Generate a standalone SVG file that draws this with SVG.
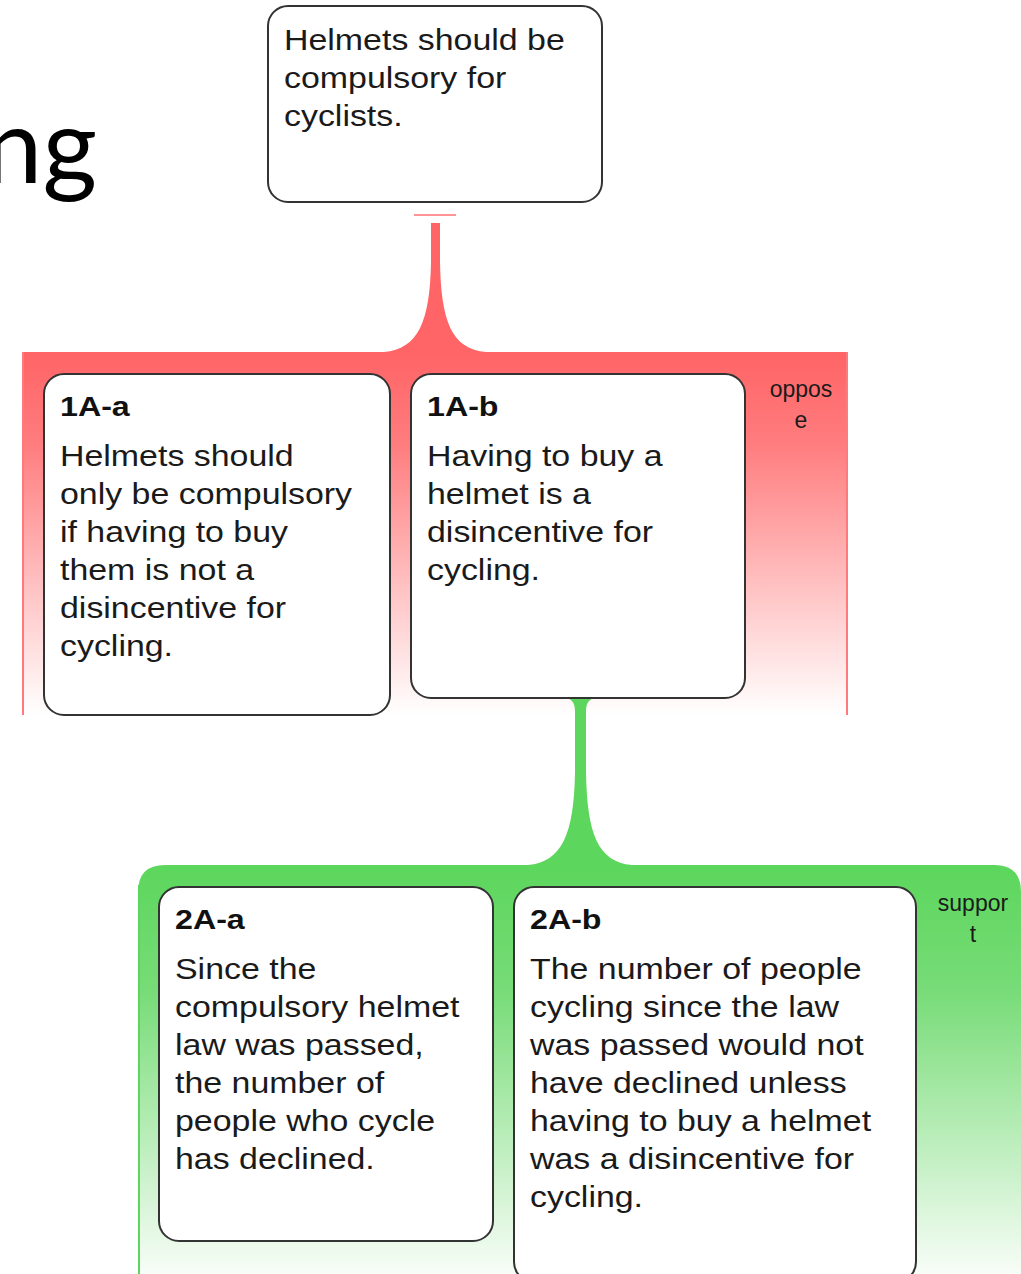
<svg xmlns="http://www.w3.org/2000/svg" width="1021" height="1274" viewBox="0 0 1021 1274">
<style>
.node{fill:#fff;stroke:#333;stroke-width:2}
.body{font-family:"Liberation Sans",Arial,sans-serif;font-size:29.5px;fill:#1a1a1a}
.title{font-family:"Liberation Sans",Arial,sans-serif;font-size:28px;font-weight:bold;fill:#111}
.lbl{font-family:"Liberation Sans",Arial,sans-serif;font-size:23px;fill:#1a1a1a;text-anchor:middle}
</style>
<defs>
<linearGradient id="gRed" x1="0" y1="352" x2="0" y2="715" gradientUnits="userSpaceOnUse">
<stop offset="0" stop-color="#ff6466"/>
<stop offset="0.25" stop-color="#ff7c7e"/>
<stop offset="1" stop-color="#ffffff"/>
</linearGradient>
<linearGradient id="gGreen" x1="0" y1="865" x2="0" y2="1290" gradientUnits="userSpaceOnUse">
<stop offset="0" stop-color="#5cd65c"/>
<stop offset="0.3" stop-color="#78dc78"/>
<stop offset="1" stop-color="#ffffff"/>
</linearGradient>
</defs>
<rect width="1021" height="1274" fill="#fff"/>
<text x="97" y="183" text-anchor="end" font-family="Lato,'Open Sans',sans-serif" font-size="105" fill="#000">ng</text>

<g id="groups">
<rect id="oppose-region" x="22" y="352" width="826" height="363" fill="url(#gRed)"/>
<line x1="23" y1="352" x2="23" y2="715" stroke="#ff7a7c" stroke-width="2"/>
<line x1="847" y1="352" x2="847" y2="715" stroke="#ff7a7c" stroke-width="2"/>
<text class="lbl" x="801" y="397">oppos</text>
<text class="lbl" x="801" y="428">e</text>
<path id="support-region" d="M138,1274 V892 Q138,865 165,865 H994 Q1021,865 1021,892 V1274 Z" fill="url(#gGreen)"/>
<line x1="139" y1="885" x2="139" y2="1274" stroke="#5cd65c" stroke-width="2"/>
<text class="lbl" x="973" y="911">suppor</text>
<text class="lbl" x="973" y="942">t</text>
</g>

<g id="connectors">
<line x1="414" y1="215" x2="456" y2="215" stroke="#ff9496" stroke-width="2"/>
<path d="M431,223 H440 V262 C441,322 452,349 486,352 H384 C418,349 430,322 431,262 Z" fill="#ff6466"/>
<path d="M567,698 H594 C588,700 586,704 586,712 V772 C587,834 598,862 632,865 H528 C562,862 574,834 575,772 V712 C575,704 573,700 567,698 Z" fill="#5cd65c"/>
</g>

<g id="node-root">
<rect class="node" x="268" y="6" width="334" height="196" rx="20"/>
<text class="body" transform="translate(284,50) scale(1.15,1)"><tspan x="0" y="0">Helmets should be</tspan><tspan x="0" y="38">compulsory for</tspan><tspan x="0" y="76">cyclists.</tspan></text>
</g>

<g id="node-1A-a">
<rect class="node" x="44" y="374" width="346" height="341" rx="20"/>
<text class="title" transform="translate(60,416) scale(1.15,1)">1A-a</text>
<text class="body" transform="translate(60,466) scale(1.15,1)"><tspan x="0" y="0">Helmets should</tspan><tspan x="0" y="38">only be compulsory</tspan><tspan x="0" y="76">if having to buy</tspan><tspan x="0" y="114">them is not a</tspan><tspan x="0" y="152">disincentive for</tspan><tspan x="0" y="190">cycling.</tspan></text>
</g>

<g id="node-1A-b">
<rect class="node" x="411" y="374" width="334" height="324" rx="20"/>
<text class="title" transform="translate(427,416) scale(1.15,1)">1A-b</text>
<text class="body" transform="translate(427,466) scale(1.15,1)"><tspan x="0" y="0">Having to buy a</tspan><tspan x="0" y="38">helmet is a</tspan><tspan x="0" y="76">disincentive for</tspan><tspan x="0" y="114">cycling.</tspan></text>
</g>

<g id="node-2A-a">
<rect class="node" x="159" y="887" width="334" height="354" rx="20"/>
<text class="title" transform="translate(175,929) scale(1.15,1)">2A-a</text>
<text class="body" transform="translate(175,979) scale(1.15,1)"><tspan x="0" y="0">Since the</tspan><tspan x="0" y="38">compulsory helmet</tspan><tspan x="0" y="76">law was passed,</tspan><tspan x="0" y="114">the number of</tspan><tspan x="0" y="152">people who cycle</tspan><tspan x="0" y="190">has declined.</tspan></text>
</g>

<g id="node-2A-b">
<rect class="node" x="514" y="887" width="402" height="395" rx="20"/>
<text class="title" transform="translate(530,929) scale(1.15,1)">2A-b</text>
<text class="body" transform="translate(530,979) scale(1.15,1)"><tspan x="0" y="0">The number of people</tspan><tspan x="0" y="38">cycling since the law</tspan><tspan x="0" y="76">was passed would not</tspan><tspan x="0" y="114">have declined unless</tspan><tspan x="0" y="152">having to buy a helmet</tspan><tspan x="0" y="190">was a disincentive for</tspan><tspan x="0" y="228">cycling.</tspan></text>
</g>
</svg>
